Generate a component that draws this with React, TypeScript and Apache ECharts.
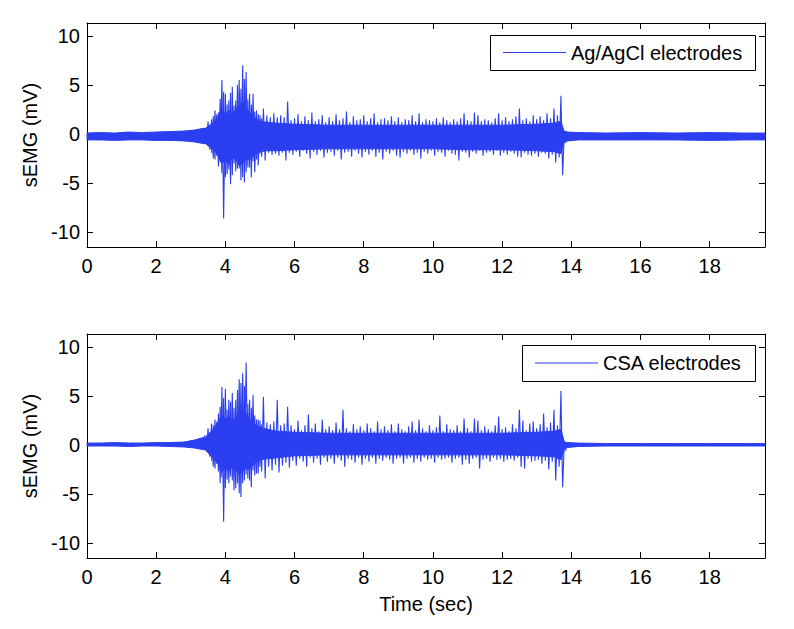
import React, { useEffect, useRef } from "react";
import * as echarts from "echarts";

// ---------- axis ticks ----------
const xTicks = [0, 2, 4, 6, 8, 10, 12, 14, 16, 18];
const yTicks = [-10, -5, 0, 5, 10];
const X_MIN = 0;
const X_MAX = 19.6;
const Y_MIN = -11.5;
const Y_MAX = 11.3;

// ---------- burst region (per 0.1 s bin: max and min of the trace) ----------
const burstStart = 3.4;
const burstStep = 0.1;

const agHi = [
  0.6, 1.3, 1.5, 2.4, 2.2, 5.5,
  4.1, 3.4, 4.8, 3.4, 5.5, 7.0, 6.3, 4.1, 4.1, 2.4,
  1.9, 2.6, 1.9, 1.7, 2.1, 1.7, 1.9, 1.7, 3.3, 1.4,
  1.6, 2.0, 1.3, 1.8, 1.4, 2.2, 1.3, 1.5, 1.9, 1.2,
  1.7, 1.3, 2.0, 1.4, 1.6, 2.3, 1.2, 1.8, 1.4, 1.5,
  1.9, 1.3, 1.6, 2.1, 1.2, 1.5, 1.6, 1.4, 1.8, 1.3,
  1.7, 1.2, 1.5, 1.4, 1.9, 1.3, 2.1, 1.2, 1.5, 1.4,
  1.3, 1.6, 1.2, 1.7, 1.4, 1.2, 1.5, 1.3, 1.6, 2.1,
  1.4, 1.3, 2.2, 1.9, 1.3, 1.5, 1.4, 1.2, 1.6, 2.1,
  1.4, 1.7, 1.3, 1.5, 1.8, 2.6, 1.4, 1.6, 1.3, 1.9,
  1.5, 1.8, 1.4, 2.1, 1.6, 2.6, 1.9, 3.9, 0.3,
];
const agLo = [
  -1.0, -1.6, -2.5, -2.2, -2.9, -8.6,
  -4.1, -5.1, -3.0, -3.5, -4.7, -4.9, -3.4, -4.4, -3.9, -3.2,
  -2.3, -2.7, -1.9, -2.1, -2.0, -2.2, -1.9, -2.7, -1.9, -2.1,
  -1.8, -2.3, -1.7, -2.0, -2.5, -1.8, -2.1, -1.7, -2.4, -1.9,
  -1.8, -2.2, -1.7, -2.6, -1.9, -1.8, -2.3, -1.7, -2.0, -2.4,
  -1.8, -2.1, -1.7, -2.3, -1.9, -2.6, -1.8, -2.0, -1.7, -2.2,
  -2.4, -1.8, -2.0, -1.7, -2.1, -1.9, -2.5, -1.8, -2.0, -1.7,
  -2.2, -1.8, -1.9, -2.3, -1.7, -2.0, -2.1, -2.7, -1.8, -1.9,
  -2.4, -1.8, -2.0, -1.7, -2.2, -1.9, -1.8, -2.1, -1.7, -2.2,
  -1.9, -2.1, -1.8, -2.0, -2.3, -2.4, -1.9, -2.1, -2.2, -2.0,
  -2.3, -1.9, -2.0, -2.5, -2.1, -2.9, -2.4, -4.2, -0.9,
];

const csaHi = [
  1.0, 1.7, 2.2, 2.6, 3.2, 5.9,
  5.7, 4.6, 5.3, 4.6, 6.7, 7.3, 8.4, 4.6, 5.1, 2.6,
  2.5, 4.9, 2.3, 2.1, 2.4, 4.6, 2.0, 2.2, 3.9, 2.0,
  1.6, 2.5, 1.5, 2.0, 3.1, 1.7, 2.2, 1.4, 2.6, 1.6,
  1.9, 1.5, 2.3, 1.6, 3.6, 1.7, 1.4, 2.1, 1.6, 1.9,
  1.5, 2.2, 1.7, 1.4, 2.4, 1.6, 1.9, 1.5, 2.1, 1.4,
  2.2, 1.6, 1.4, 1.9, 2.4, 1.5, 2.6, 1.7, 1.4, 2.0,
  1.5, 1.8, 3.0, 1.4, 2.1, 1.6, 1.5, 2.0, 1.4, 2.7,
  1.7, 1.4, 2.7, 2.5, 1.5, 1.9, 1.6, 1.4, 2.0, 2.9,
  1.6, 1.8, 1.4, 2.1, 1.7, 3.6, 2.5, 1.5, 2.2, 2.4,
  1.7, 2.1, 3.2, 1.8, 2.3, 3.6, 2.0, 5.5, 0.4,
];
const csaLo = [
  -0.6, -1.2, -2.2, -1.9, -3.9, -7.8,
  -3.5, -3.2, -4.6, -3.9, -5.3, -3.6, -3.4, -4.3, -3.1, -2.9,
  -2.7, -3.4, -2.2, -2.6, -2.0, -2.8, -2.1, -1.8, -2.3, -1.6,
  -2.1, -1.4, -1.7, -2.2, -1.3, -1.8, -1.4, -2.0, -1.3, -1.7,
  -1.4, -1.9, -1.3, -1.6, -2.2, -1.4, -1.5, -1.8, -1.3, -2.0,
  -1.4, -1.7, -1.3, -1.9, -1.4, -1.6, -1.3, -1.5, -1.9, -1.4,
  -1.3, -1.9, -1.4, -1.3, -1.8, -1.4, -1.7, -1.3, -1.5, -1.4,
  -1.8, -1.3, -1.5, -1.4, -1.3, -1.8, -1.4, -1.3, -2.0, -1.5,
  -1.9, -1.4, -1.3, -2.4, -1.5, -1.4, -1.7, -1.3, -1.5, -1.4,
  -1.7, -1.5, -1.4, -1.6, -1.3, -2.2, -2.4, -1.4, -1.7, -1.6,
  -1.5, -1.9, -1.6, -2.5, -1.7, -3.6, -2.2, -4.3, -0.6,
];

// extra spikes inside the onset burst (3.6 s – 5.0 s, interleaved with the bins above)
const onsetStart = 3.6;
const agHi2 = [1.8, 2.0, 3.6, 4.3, 3.0, 4.2, 2.9, 5.0, 4.6, 5.6, 3.5, 3.0, 2.3, 2.0, 1.6];
const agLo2 = [-1.9, -2.6, -3.3, -4.0, -4.4, -3.6, -4.2, -3.8, -3.5, -4.4, -3.9, -3.4, -2.8, -2.6, -2.0];
const csaHi2 = [2.0, 2.4, 3.9, 4.8, 3.6, 4.4, 3.8, 5.6, 6.3, 6.0, 4.2, 3.8, 3.0, 2.6, 2.1];
const csaLo2 = [-1.6, -2.4, -2.7, -3.3, -4.4, -3.9, -3.6, -4.4, -4.9, -3.9, -3.0, -3.6, -2.6, -2.9, -2.2];

// ---------- dense core of the burst (solid part of the trace) ----------
const coreT = [
  3.4, 3.5, 3.6, 3.7, 3.8, 3.9, 4.0, 4.1, 4.2, 4.3,
  4.4, 4.5, 4.6, 4.7, 4.8, 4.9, 5.0, 5.2, 5.5, 6.0,
  7.0, 8.0, 9.0, 10.0, 11.0, 12.0, 13.0, 13.5, 13.7, 13.8,
];
const agCoreHi = [
  0.5, 0.8, 1.0, 1.3, 1.9, 2.6, 2.0, 2.4, 1.9, 2.5,
  2.9, 3.2, 2.6, 2.2, 1.8, 1.5, 1.3, 1.2, 1.1, 1.0,
  0.9, 0.9, 0.9, 0.9, 0.9, 0.9, 1.0, 1.1, 1.3, 0.2,
];
const agCoreLo = [
  -0.9, -1.2, -1.5, -1.7, -2.3, -3.0, -2.6, -3.1, -2.4, -2.6,
  -3.2, -3.0, -2.5, -2.6, -2.3, -2.0, -1.8, -1.7, -1.7, -1.6,
  -1.5, -1.5, -1.5, -1.5, -1.6, -1.6, -1.7, -1.8, -2.0, -0.8,
];
const csaCoreHi = [
  0.7, 1.1, 1.4, 1.8, 2.4, 3.0, 2.6, 2.9, 2.4, 2.8,
  3.4, 3.6, 3.2, 2.6, 2.3, 2.0, 1.8, 1.6, 1.4, 1.3,
  1.2, 1.2, 1.2, 1.2, 1.2, 1.2, 1.3, 1.4, 1.6, 0.3,
];
const csaCoreLo = [
  -0.4, -0.8, -1.2, -1.5, -2.0, -2.8, -2.3, -2.7, -2.2, -2.5,
  -3.0, -2.7, -2.4, -2.5, -2.0, -1.7, -1.5, -1.4, -1.3, -1.1,
  -1.0, -1.0, -1.0, -1.0, -1.0, -1.0, -1.1, -1.2, -1.5, -0.4,
];

// ---------- resting baseline (band: upper / lower edge) ----------
const agPreT = [0, 0.4, 0.8, 1.2, 1.6, 2.0, 2.4, 2.8, 3.1, 3.4];
const agPreHi = [0.1, 0.15, 0.1, 0.2, 0.15, 0.2, 0.25, 0.3, 0.4, 0.6];
const agPreLo = [-0.6, -0.6, -0.65, -0.6, -0.6, -0.65, -0.65, -0.7, -0.8, -1.0];
const agPostT = [13.8, 13.9, 14.2, 15, 16, 17, 18, 19, 19.6];
const agPostHi = [0.3, 0.2, 0.15, 0.1, 0.15, 0.1, 0.15, 0.1, 0.1];
const agPostLo = [-0.8, -0.7, -0.6, -0.6, -0.6, -0.6, -0.65, -0.6, -0.6];

const csaPreT = [0, 0.4, 0.8, 1.2, 1.6, 2.0, 2.4, 2.8, 3.1, 3.4];
const csaPreHi = [0.2, 0.2, 0.25, 0.2, 0.2, 0.25, 0.25, 0.3, 0.5, 0.8];
const csaPreLo = [-0.1, -0.1, -0.1, -0.15, -0.1, -0.1, -0.15, -0.2, -0.3, -0.5];
const csaPostT = [13.8, 13.9, 14.2, 15, 16, 17, 18, 19, 19.6];
const csaPostHi = [0.3, 0.25, 0.2, 0.15, 0.15, 0.15, 0.15, 0.15, 0.15];
const csaPostLo = [-0.4, -0.25, -0.15, -0.1, -0.1, -0.1, -0.1, -0.1, -0.1];

const legendNames = ["Ag/AgCl electrodes", "CSA electrodes"];

const BLUE = "#2b3ff0";
const FONT = 'Arial, "Liberation Sans", Helvetica, sans-serif';

// filled band between an upper and a lower edge, positioned with the axes' own scales
function band(t: number[], hi: number[], lo: number[], axis: number) {
  return {
    type: "custom",
    coordinateSystem: "cartesian2d",
    xAxisIndex: axis,
    yAxisIndex: axis,
    silent: true,
    data: [[t[0], hi[0]]],
    renderItem: (_params: any, api: any) => {
      const upper = t.map((x, i) => api.coord([x, hi[i]]));
      const lower = t.map((x, i) => api.coord([x, lo[i]])).reverse();
      return {
        type: "polygon",
        shape: { points: [...upper, ...lower] },
        style: { fill: BLUE, stroke: BLUE, lineWidth: 1 },
      };
    },
  };
}

// zig-zag trace: bin maximum, then bin minimum half a bin later
function zigzag(start: number, hi: number[], lo: number[], axis: number, loFirst: boolean) {
  const data: number[][] = [];
  hi.forEach((h, i) => {
    const t = start + i * burstStep;
    if (loFirst) {
      data.push([t, lo[i]]);
      data.push([t + burstStep / 2, h]);
    } else {
      data.push([t, h]);
      data.push([t + burstStep / 2, lo[i]]);
    }
  });
  return {
    type: "line",
    xAxisIndex: axis,
    yAxisIndex: axis,
    data,
    symbol: "none",
    showSymbol: false,
    silent: true,
    z: 3,
    lineStyle: { width: 1.1, color: BLUE },
  };
}

const axisLineStyle = { show: true, onZero: false, lineStyle: { color: "#000", width: 1 } };
const labelStyle = { color: "#000", fontSize: 20, fontFamily: FONT };

function xAxes(gridIndex: number, withName: boolean) {
  return [
    {
      type: "value",
      gridIndex,
      position: "bottom",
      min: X_MIN,
      max: X_MAX,
      axisLine: axisLineStyle,
      axisTick: { show: true, inside: true, length: 6, customValues: xTicks, lineStyle: { color: "#000" } },
      axisLabel: { ...labelStyle, margin: 9, customValues: xTicks },
      splitLine: { show: false },
      name: withName ? "Time (sec)" : "",
      nameLocation: "middle",
      nameGap: 36,
      nameTextStyle: { ...labelStyle },
    },
    {
      type: "value",
      gridIndex,
      position: "top",
      min: X_MIN,
      max: X_MAX,
      axisLine: axisLineStyle,
      axisTick: { show: true, inside: true, length: 6, customValues: xTicks, lineStyle: { color: "#000" } },
      axisLabel: { show: false },
      splitLine: { show: false },
    },
  ];
}

function yAxes(gridIndex: number) {
  return [
    {
      type: "value",
      gridIndex,
      position: "left",
      min: Y_MIN,
      max: Y_MAX,
      axisLine: axisLineStyle,
      axisTick: { show: true, inside: true, length: 6, customValues: yTicks, lineStyle: { color: "#000" } },
      axisLabel: { ...labelStyle, margin: 7, customValues: yTicks },
      splitLine: { show: false },
      name: "sEMG (mV)",
      nameLocation: "middle",
      nameGap: 44,
      nameTextStyle: { ...labelStyle },
    },
    {
      type: "value",
      gridIndex,
      position: "right",
      min: Y_MIN,
      max: Y_MAX,
      axisLine: axisLineStyle,
      axisTick: { show: true, inside: true, length: 6, customValues: yTicks, lineStyle: { color: "#000" } },
      axisLabel: { show: false },
      splitLine: { show: false },
    },
  ];
}

function legendBox(x: number, y: number, w: number, h: number, lineLen: number, name: string) {
  const cy = y + h / 2;
  return {
    type: "group",
    z: 100,
    children: [
      {
        type: "rect",
        shape: { x: x + 0.5, y: y + 0.5, width: w, height: h },
        style: { fill: "#fff", stroke: "#000", lineWidth: 1 },
        z: 100,
      },
      {
        type: "line",
        shape: { x1: x + 13, y1: cy, x2: x + 13 + lineLen, y2: cy },
        style: { stroke: BLUE, lineWidth: 1.2 },
        z: 101,
      },
      {
        type: "text",
        x: x + 13 + lineLen + 5,
        y: cy,
        style: { text: name, fill: "#000", font: `20px ${FONT}`, verticalAlign: "middle" },
        z: 101,
      },
    ],
  };
}

export default function App() {
  const ref = useRef<HTMLDivElement>(null);
  useEffect(() => {
    if (!ref.current) return;
    const chart = echarts.init(ref.current, undefined, { renderer: "svg" });
    const option: any = {
      animation: false,
      backgroundColor: "#fff",
      grid: [
        { left: 87, top: 23, width: 678, height: 224 },
        { left: 87, top: 334, width: 678, height: 224 },
      ],
      // axes 0,1 -> top plot ; 2,3 -> bottom plot
      xAxis: [...xAxes(0, false), ...xAxes(1, true)],
      yAxis: [...yAxes(0), ...yAxes(1)],
      series: [
        band(agPreT, agPreHi, agPreLo, 0),
        band(agPostT, agPostHi, agPostLo, 0),
        band(coreT, agCoreHi, agCoreLo, 0),
        zigzag(burstStart, agHi, agLo, 0, false),
        zigzag(onsetStart, agHi2, agLo2, 0, true),
        band(csaPreT, csaPreHi, csaPreLo, 2),
        band(csaPostT, csaPostHi, csaPostLo, 2),
        band(coreT, csaCoreHi, csaCoreLo, 2),
        zigzag(burstStart, csaHi, csaLo, 2, false),
        zigzag(onsetStart, csaHi2, csaLo2, 2, true),
      ],
      graphic: [
        legendBox(490, 35, 265, 35, 63, legendNames[0]),
        legendBox(522, 345, 233, 36, 63, legendNames[1]),
      ],
    };
    chart.setOption(option);
    return () => chart.dispose();
  }, []);
  return (
    <div
      ref={ref}
      style={{ position: "fixed", left: 0, top: 0, width: 794, height: 629, background: "#fff" }}
    />
  );
}
